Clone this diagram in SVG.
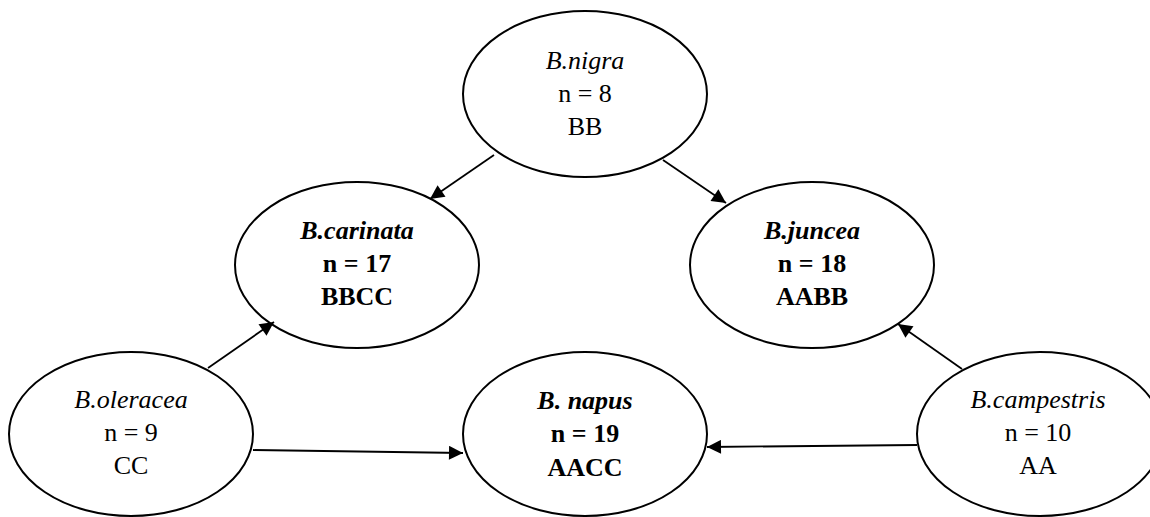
<svg xmlns="http://www.w3.org/2000/svg" width="1150" height="517" viewBox="0 0 1150 517">
<style>
.n ellipse{fill:#fff;stroke:#000;stroke-width:2}
text{font-family:"Liberation Serif","Times New Roman",serif;font-size:26px;text-anchor:middle;fill:#000}
.i{font-style:italic}
.b{font-weight:bold}
.c line{stroke:#000;stroke-width:1.8}
</style>
<defs>
<marker id="ah" viewBox="0 0 10 10" refX="10" refY="5" markerWidth="18" markerHeight="14" markerUnits="userSpaceOnUse" orient="auto"><path d="M0,0L10,5L0,10z" fill="#000"/></marker>
</defs>
<rect width="1150" height="517" fill="#fff"/>
<g id="nigra" class="n"><ellipse cx="585" cy="94" rx="122" ry="83"/>
<text x="585" y="69" class="i">B.nigra</text><text x="585" y="102">n = 8</text><text x="585" y="135">BB</text></g>
<g id="carinata" class="n"><ellipse cx="357" cy="265" rx="122" ry="83"/>
<text x="357" y="239" class="i b">B.carinata</text><text x="357" y="272" class="b">n = 17</text><text x="357" y="305" class="b">BBCC</text></g>
<g id="juncea" class="n"><ellipse cx="812" cy="265" rx="122" ry="83"/>
<text x="812" y="239" class="i b">B.juncea</text><text x="812" y="272" class="b">n = 18</text><text x="812" y="305" class="b">AABB</text></g>
<g id="oleracea" class="n"><ellipse cx="131" cy="434" rx="122" ry="82"/>
<text x="131" y="408" class="i">B.oleracea</text><text x="131" y="441">n = 9</text><text x="131" y="474">CC</text></g>
<g id="napus" class="n"><ellipse cx="585" cy="434" rx="122" ry="82"/>
<text x="585" y="409" class="i b">B. napus</text><text x="585" y="442" class="b">n = 19</text><text x="585" y="476" class="b">AACC</text></g>
<g id="campestris" class="n"><ellipse cx="1040" cy="434" rx="123" ry="82"/>
<text x="1038" y="408" class="i">B.campestris</text><text x="1038" y="441">n = 10</text><text x="1038" y="474">AA</text></g>
<g class="c">
<line x1="494" y1="155" x2="430" y2="199" marker-end="url(#ah)"/>
<line x1="663" y1="160" x2="726" y2="203" marker-end="url(#ah)"/>
<line x1="208" y1="368" x2="274" y2="322" marker-end="url(#ah)"/>
<line x1="253" y1="450" x2="463" y2="453" marker-end="url(#ah)"/>
<line x1="917" y1="445" x2="707" y2="447" marker-end="url(#ah)"/>
<line x1="962" y1="369" x2="898" y2="324" marker-end="url(#ah)"/>
</g>
</svg>
